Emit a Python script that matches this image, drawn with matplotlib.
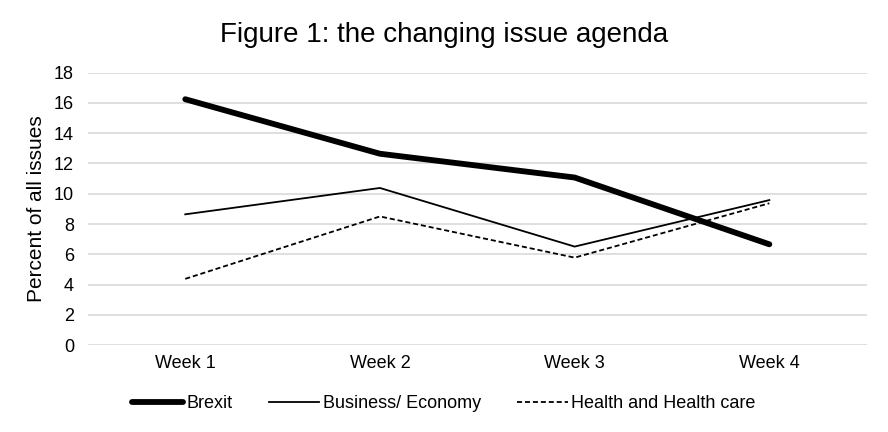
import matplotlib
matplotlib.use("Agg")
import matplotlib.pyplot as plt
import numpy as np

plt.rcParams["font.family"] = ["Liberation Sans", "DejaVu Sans"]

weeks = ["Week 1", "Week 2", "Week 3", "Week 4"]
brexit = [16.24, 12.64, 11.07, 6.66]
business = [8.64, 10.38, 6.51, 9.58]
health = [4.38, 8.50, 5.78, 9.37]

fig = plt.figure(figsize=(8.88, 4.32), dpi=100)
ax = fig.add_axes([0.099, 0.201, 0.877, 0.631])

x = np.arange(len(weeks))
ax.plot(x, brexit, color="black", linewidth=4.2, solid_capstyle="round", label="Brexit")
ax.plot(x, business, color="black", linewidth=1.3, label="Business/ Economy")
ax.plot(x, health, color="black", linewidth=1.3, linestyle=(0, (2.8, 1.6)), label="Health and Health care")

ax.set_xlim(-0.5, len(weeks) - 0.5)
ax.set_ylim(0, 18)
ax.set_yticks(range(0, 19, 2))
ax.set_xticks(x)
ax.set_xticklabels(weeks)
ax.tick_params(length=0, labelsize=13, pad=7)
ax.tick_params(axis="y", pad=10)
ax.grid(axis="y", color="#d9d9d9", linewidth=1.2)
ax.set_axisbelow(True)
for spine in ax.spines.values():
    spine.set_visible(False)

ax.set_ylabel("Percent of all issues", fontsize=15, labelpad=6)
fig.text(0.5, 0.918, "Figure 1: the changing issue agenda", ha="center", va="center", fontsize=20)

fig.legend(loc="center", bbox_to_anchor=(0.5, 0.066), ncol=3, frameon=False,
           fontsize=13, handlelength=2.8, handletextpad=0.2, columnspacing=2.0)

fig.savefig("out.png", dpi=100)
